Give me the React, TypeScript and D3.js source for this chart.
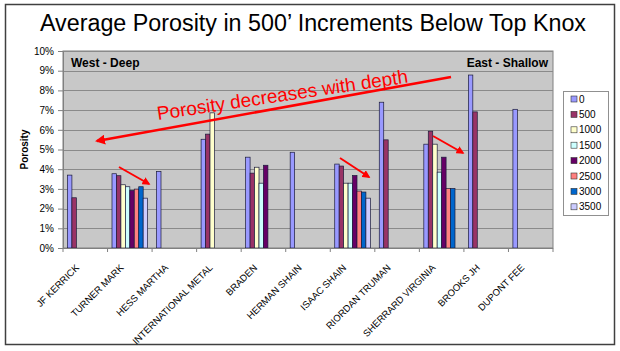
import React, { useRef, useEffect } from 'react';
import * as d3 from 'd3';

const wells = [
  'JF KERRICK',
  'TURNER MARK',
  'HESS MARTHA',
  'INTERNATIONAL METAL',
  'BRADEN',
  'HERMAN SHAIN',
  'ISAAC SHAIN',
  'RIORDAN TRUMAN',
  'SHERRARD VIRGINIA',
  'BROOKS JH',
  'DUPONT FEE',
];

const depths = ['0', '500', '1000', '1500', '2000', '2500', '3000', '3500'];

// porosity (%) per depth increment, one entry per well; null = no data
const d0 = [3.7, 3.77, 3.89, 5.52, 4.61, 4.86, 4.26, 7.4, 5.27, 8.78, 7.04];
const d500 = [2.55, 3.67, null, 5.78, 3.8, null, 4.16, 5.49, 5.93, 6.91, null];
const d1000 = [null, 3.21, null, 6.86, 4.1, null, 3.29, null, 5.27, null, null];
const d1500 = [null, 3.11, null, null, 3.29, null, 3.29, null, 3.85, null, null];
const d2000 = [null, 2.92, null, null, 4.2, null, 3.68, null, 4.61, null, null];
const d2500 = [null, 2.99, null, null, null, null, 2.89, null, 3.02, null, null];
const d3000 = [null, 3.11, null, null, null, null, 2.84, null, 3.02, null, null];
const d3500 = [null, 2.53, null, null, null, null, 2.53, null, null, null, null];

const seriesValues = [d0, d500, d1000, d1500, d2000, d2500, d3000, d3500];

const yTicks = [0, 1, 2, 3, 4, 5, 6, 7, 8, 9, 10];

const colors = ['#9999FF', '#993366', '#FFFFCC', '#CCFFFF', '#660066', '#FF8080', '#0066CC', '#CCCCFF'];

const FONT = 'Arial, "Liberation Sans", sans-serif';

const App: React.FC = () => {
  const svgRef = useRef<SVGSVGElement>(null);
  const width = 620;
  const height = 351;
  const plot = { left: 63, right: 553, top: 51, bottom: 248 };

  useEffect(() => {
    if (!svgRef.current) return;
    const svg = d3.select(svgRef.current);
    svg.selectAll('*').remove();

    // chart frame
    svg.append('rect')
      .attr('x', 5.5).attr('y', 4.5)
      .attr('width', 609).attr('height', 340)
      .attr('fill', '#fff')
      .attr('stroke', '#404040')
      .attr('stroke-width', 1.5);

    svg.append('text')
      .attr('x', 313)
      .attr('y', 31)
      .attr('text-anchor', 'middle')
      .attr('font-family', FONT)
      .attr('font-size', 23.3)
      .attr('fill', '#000')
      .text('Average Porosity in 500\u2019 Increments Below Top Knox');

    const x = d3.scaleBand<string>()
      .domain(wells)
      .range([plot.left, plot.right])
      .paddingInner(0)
      .paddingOuter(0);

    const x1 = d3.scaleBand<string>()
      .domain(depths)
      .range([x.bandwidth() * 0.1, x.bandwidth() * 0.9]);

    const y = d3.scaleLinear()
      .domain([0, 10])
      .range([plot.bottom, plot.top]);

    // plot area
    svg.append('rect')
      .attr('x', plot.left).attr('y', plot.top)
      .attr('width', plot.right - plot.left)
      .attr('height', plot.bottom - plot.top)
      .attr('fill', '#C8C8C8')
      .attr('stroke', '#808080')
      .attr('stroke-width', 1);

    svg.append('g')
      .selectAll('line')
      .data(yTicks.slice(1))
      .enter()
      .append('line')
      .attr('x1', plot.left).attr('x2', plot.right)
      .attr('y1', d => Math.round(y(d)) + 0.5)
      .attr('y2', d => Math.round(y(d)) + 0.5)
      .attr('stroke', '#8A8A8A')
      .attr('stroke-width', 1);

    // bars
    depths.forEach((dep, si) => {
      const vals = seriesValues[si];
      const bars = wells
        .map((w, i) => ({ w, v: vals[i] }))
        .filter(d => d.v != null) as { w: string; v: number }[];
      svg.append('g')
        .selectAll('rect')
        .data(bars)
        .enter()
        .append('rect')
        .attr('x', d => (x(d.w) || 0) + (x1(dep) || 0))
        .attr('y', d => y(d.v))
        .attr('width', x1.bandwidth())
        .attr('height', d => y(0) - y(d.v))
        .attr('fill', colors[si])
        .attr('stroke', '#1a1a3a')
        .attr('stroke-width', 0.7);
    });

    // axes
    const yAxis = svg.append('g')
      .attr('transform', `translate(${plot.left},0)`)
      .call(d3.axisLeft(y).tickValues(yTicks).tickSize(5).tickPadding(4).tickFormat(d => `${d}%`));
    yAxis.select('.domain').attr('stroke', '#808080');
    yAxis.selectAll('.tick line').attr('stroke', '#808080');
    yAxis.selectAll('text')
      .attr('font-family', FONT)
      .attr('font-size', 10)
      .attr('fill', '#000');

    const xAxis = svg.append('g')
      .attr('transform', `translate(0,${plot.bottom})`);
    xAxis.append('line')
      .attr('x1', plot.left).attr('x2', plot.right)
      .attr('y1', 0.5).attr('y2', 0.5)
      .attr('stroke', '#808080');
    xAxis.selectAll('line.tick')
      .data(wells.concat(['end']))
      .enter()
      .append('line')
      .attr('class', 'tick')
      .attr('x1', (d, i) => plot.left + i * x.bandwidth())
      .attr('x2', (d, i) => plot.left + i * x.bandwidth())
      .attr('y1', 0).attr('y2', 4)
      .attr('stroke', '#808080');
    xAxis.selectAll('text')
      .data(wells)
      .enter()
      .append('text')
      .attr('transform', d => `translate(${(x(d) || 0) + x.bandwidth() / 2 - 8},${18}) rotate(-45)`)
      .attr('text-anchor', 'end')
      .attr('dy', '0.35em')
      .attr('font-family', FONT)
      .attr('font-size', 9.5)
      .attr('fill', '#000')
      .text(d => d);

    svg.append('text')
      .attr('transform', `translate(28,${(plot.top + plot.bottom) / 2}) rotate(-90)`)
      .attr('text-anchor', 'middle')
      .attr('font-family', FONT)
      .attr('font-size', 10)
      .attr('font-weight', 'bold')
      .text('Porosity');

    // annotations
    svg.append('text')
      .attr('x', 71).attr('y', 67)
      .attr('font-family', FONT).attr('font-size', 12).attr('font-weight', 'bold')
      .text('West - Deep');
    svg.append('text')
      .attr('x', 548).attr('y', 67)
      .attr('text-anchor', 'end')
      .attr('font-family', FONT).attr('font-size', 12).attr('font-weight', 'bold')
      .text('East - Shallow');

    svg.append('text')
      .attr('transform', 'translate(158,120) rotate(-8.5)')
      .attr('font-family', FONT)
      .attr('font-size', 19)
      .attr('fill', '#FF0000')
      .text('Porosity decreases with depth');

    const defs = svg.append('defs');
    defs.append('marker')
      .attr('id', 'arrow')
      .attr('viewBox', '0 0 10 10')
      .attr('refX', 8).attr('refY', 5)
      .attr('markerWidth', 4).attr('markerHeight', 4)
      .attr('orient', 'auto')
      .append('path')
      .attr('d', 'M0,0 L10,5 L0,10 Z')
      .attr('fill', '#FF0000');

    const arrows = [
      [451, 77, 97, 141, 2.5],
      [119, 167, 149, 184, 2],
      [340, 158, 369, 177, 2],
      [433, 136, 463, 153, 2],
    ];
    svg.append('g')
      .selectAll('line')
      .data(arrows)
      .enter()
      .append('line')
      .attr('x1', d => d[0]).attr('y1', d => d[1])
      .attr('x2', d => d[2]).attr('y2', d => d[3])
      .attr('stroke', '#FF0000')
      .attr('stroke-width', d => d[4])
      .attr('marker-end', 'url(#arrow)');

    // legend
    const lg = svg.append('g');
    lg.append('rect')
      .attr('x', 563.5).attr('y', 91.5)
      .attr('width', 45).attr('height', 124)
      .attr('fill', '#fff')
      .attr('stroke', '#909090');
    depths.forEach((dep, i) => {
      const cy = 99 + i * 15.4;
      lg.append('rect')
        .attr('x', 571).attr('y', cy - 3)
        .attr('width', 6).attr('height', 6)
        .attr('fill', colors[i])
        .attr('stroke', '#333')
        .attr('stroke-width', 0.6);
      lg.append('text')
        .attr('x', 579).attr('y', cy)
        .attr('dy', '0.35em')
        .attr('font-family', FONT)
        .attr('font-size', 10)
        .text(dep);
    });
  }, []);

  return (
    <svg
      ref={svgRef}
      width={width}
      height={height}
      style={{ position: 'absolute', left: 0, top: 0, background: '#fff' }}
    />
  );
};

export default App;
